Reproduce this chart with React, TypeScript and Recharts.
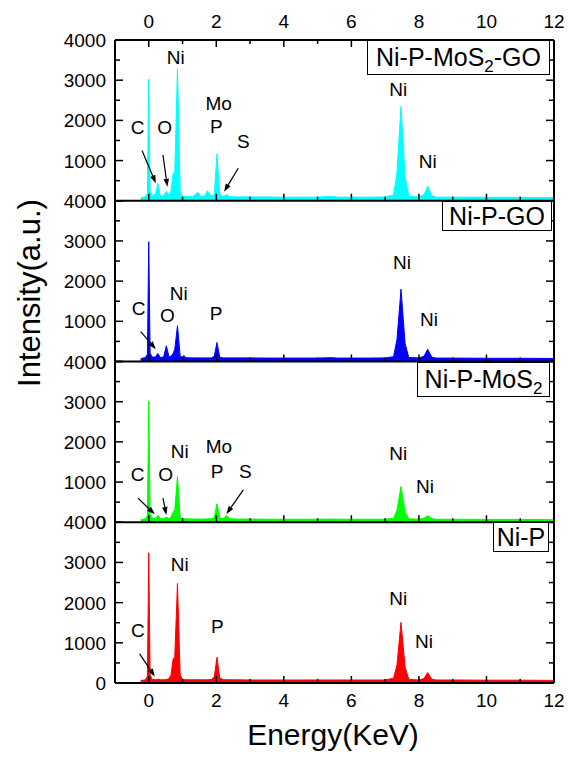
import { Area, AreaChart, ReferenceDot, ReferenceLine, XAxis, YAxis } from "recharts";

// energy grid (keV) shared by all four spectra
const energy = [
  -0.24, -0.1, -0.04, 0, 0.04, 0.1, 0.2, 0.27, 0.34, 0.44, 0.52, 0.6, 0.66, 0.72, 0.77, 0.85, 0.93, 1.0,
  1.04, 1.1, 1.3, 1.45, 1.55, 1.65, 1.74, 1.85, 1.94, 2.02, 2.1, 2.2, 2.3, 2.4, 2.6, 3.0, 3.5, 4.0, 4.5,
  5.0, 5.4, 5.6, 6.0, 6.5, 7.0, 7.25, 7.35, 7.47, 7.59, 7.7, 8.0, 8.15, 8.26, 8.38, 8.5, 9.0, 10.0, 11.0,
  12.0,
];

const niPMoS2GO = [
  70, 100, 180, 3020, 230, 130, 160, 430, 120, 120, 230, 130, 250, 680, 700, 3290, 230, 110, 110, 100,
  100, 210, 100, 110, 250, 100, 160, 1170, 160, 100, 150, 100, 95, 95, 95, 90, 90, 90, 110, 90, 90, 90,
  95, 140, 700, 2350, 600, 110, 95, 150, 360, 130, 90, 90, 85, 85, 80,
];
const niPGO = [
  70, 100, 180, 2980, 210, 110, 110, 200, 100, 110, 390, 110, 130, 200, 300, 890, 130, 110, 150, 95, 90,
  90, 90, 90, 90, 90, 130, 475, 110, 90, 90, 90, 90, 90, 85, 85, 85, 85, 95, 85, 85, 85, 90, 120, 550,
  1800, 450, 100, 90, 130, 305, 110, 85, 85, 80, 80, 75,
];
const niPMoS2 = [
  60, 90, 170, 3020, 200, 100, 100, 170, 90, 90, 125, 90, 130, 250, 300, 1140, 120, 90, 90, 85, 80, 80,
  80, 80, 85, 85, 120, 460, 110, 90, 170, 90, 80, 80, 75, 75, 75, 75, 80, 75, 75, 75, 75, 100, 300, 890,
  250, 85, 75, 100, 165, 90, 75, 75, 70, 70, 65,
];
const niP = [
  60, 80, 170, 3240, 200, 90, 80, 95, 80, 80, 85, 110, 200, 590, 650, 2475, 200, 90, 85, 80, 80, 80, 80,
  80, 80, 85, 150, 640, 130, 85, 80, 80, 80, 75, 75, 75, 75, 75, 75, 75, 75, 75, 75, 120, 450, 1510, 400,
  90, 75, 110, 260, 95, 75, 75, 70, 70, 65,
];

const xTicks = [0, 1, 2, 3, 4, 5, 6, 7, 8, 9, 10, 11, 12];
const yTicks = [0, 500, 1000, 1500, 2000, 2500, 3000, 3500, 4000];

// peak annotations (energy, counts)
const labelsMoS2GO = [
  { text: "C", x: -0.33, y: 1820 },
  { text: "O", x: 0.47, y: 1820 },
  { text: "Ni", x: 0.8, y: 3570 },
  { text: "Mo", x: 2.07, y: 2420 },
  { text: "P", x: 2.0, y: 1845 },
  { text: "S", x: 2.8, y: 1470 },
  { text: "Ni", x: 7.39, y: 2770 },
  { text: "Ni", x: 8.26, y: 977 },
];
const arrowsMoS2GO = [
  [-0.2, 1250, 0.21, 435],
  [0.42, 1140, 0.55, 350],
  [2.65, 810, 2.23, 225],
];
const labelsGO = [
  { text: "C", x: -0.3, y: 1330 },
  { text: "O", x: 0.55, y: 1145 },
  { text: "Ni", x: 0.89, y: 1690 },
  { text: "P", x: 1.99, y: 1190 },
  { text: "Ni", x: 7.5, y: 2455 },
  { text: "Ni", x: 8.3, y: 1055 },
];
const arrowsGO = [[-0.24, 745, 0.21, 305]];
const labelsMoS2 = [
  { text: "C", x: -0.33, y: 1180 },
  { text: "O", x: 0.5, y: 1180 },
  { text: "Ni", x: 0.92, y: 1765 },
  { text: "Mo", x: 2.08, y: 1890 },
  { text: "P", x: 2.02, y: 1265 },
  { text: "S", x: 2.86, y: 1265 },
  { text: "Ni", x: 7.39, y: 1705 },
  { text: "Ni", x: 8.18, y: 890 },
];
const arrowsMoS2 = [
  [-0.32, 600, 0.18, 200],
  [0.42, 600, 0.52, 180],
  [2.8, 805, 2.3, 205],
];
const labelsNiP = [
  { text: "C", x: -0.32, y: 1310 },
  { text: "Ni", x: 0.92, y: 2950 },
  { text: "P", x: 2.03, y: 1410 },
  { text: "Ni", x: 7.39, y: 2100 },
  { text: "Ni", x: 8.15, y: 1030 },
];
const arrowsNiP = [[-0.27, 725, 0.18, 160]];

const FONT = "'Liberation Sans', Arial, sans-serif";
const W = 568;
const H = 765;
const PLOT_TOP = 40;
const PANEL_H = 160.75;

const panels = [
  { values: niPMoS2GO, color: "#00FFFF", labels: labelsMoS2GO, arrows: arrowsMoS2GO },
  { values: niPGO, color: "#0000FF", labels: labelsGO, arrows: arrowsGO },
  { values: niPMoS2, color: "#00FF00", labels: labelsMoS2, arrows: arrowsMoS2 },
  { values: niP, color: "#FF0000", labels: labelsNiP, arrows: arrowsNiP },
];

const legends = [
  { left: 367, top: 40, width: 183, height: 35, content: <>Ni-P-MoS<sub style={{ fontSize: 17 }}>2</sub>-GO</> },
  { left: 442, top: 201, width: 110, height: 30, content: <>Ni-P-GO</> },
  { left: 417, top: 362, width: 133, height: 35, content: <>Ni-P-MoS<sub style={{ fontSize: 17 }}>2</sub></> },
  { left: 493, top: 522, width: 56, height: 30, content: <>Ni-P</> },
];

function BottomTick(props: any) {
  const { x, y, payload, showLabel } = props;
  const major = payload.value % 2 === 0;
  return (
    <g>
      <line x1={x} x2={x} y1={y} y2={y - (major ? 7 : 4)} stroke="#000" strokeWidth={1.5} />
      {showLabel && major && (
        <text x={x} y={y + 24} textAnchor="middle" fontSize={19} fontFamily={FONT} fill="#000">
          {payload.value}
        </text>
      )}
    </g>
  );
}

function TopTick(props: any) {
  const { x, y, payload } = props;
  const major = payload.value % 2 === 0;
  return (
    <g>
      <line x1={x} x2={x} y1={y} y2={y + (major ? 7 : 4)} stroke="#000" strokeWidth={1.5} />
      {major && (
        <text x={x} y={y - 12} textAnchor="middle" fontSize={19} fontFamily={FONT} fill="#000">
          {payload.value}
        </text>
      )}
    </g>
  );
}

function LeftTick(props: any) {
  const { x, y, payload } = props;
  const major = payload.value % 1000 === 0;
  return (
    <g>
      <line x1={x} x2={x + (major ? 8 : 5)} y1={y} y2={y} stroke="#000" strokeWidth={1.5} />
      {major && (
        <text x={x - 9} y={y + 7} textAnchor="end" fontSize={19} fontFamily={FONT} fill="#000">
          {payload.value}
        </text>
      )}
    </g>
  );
}

function RightTick(props: any) {
  const { x, y, payload } = props;
  const major = payload.value % 1000 === 0;
  return <line x1={x} x2={x - (major ? 8 : 5)} y1={y} y2={y} stroke="#000" strokeWidth={1.5} />;
}

function Arrow(props: any) {
  const { x1, y1, x2, y2 } = props;
  const a = Math.atan2(y2 - y1, x2 - x1);
  const len = 8;
  const hw = 2.8;
  const bx = x2 - len * Math.cos(a);
  const by = y2 - len * Math.sin(a);
  const px = -Math.sin(a) * hw;
  const py = Math.cos(a) * hw;
  return (
    <g>
      <line x1={x1} y1={y1} x2={bx} y2={by} stroke="#000" strokeWidth={1.2} />
      <polygon points={`${x2},${y2} ${bx + px},${by + py} ${bx - px},${by - py}`} fill="#000" />
    </g>
  );
}

function Panel({ index }: { index: number }) {
  const p = panels[index];
  const rows = energy.map((e, j) => ({ e, v: p.values[j] }));
  const top = PLOT_TOP + PANEL_H * index;
  const bottom = H - (top + PANEL_H);
  const axisLine = { stroke: "#000", strokeWidth: 2 };
  return (
    <div style={{ position: "absolute", left: 0, top: 0 }}>
      <AreaChart
        width={W}
        height={H}
        data={rows}
        margin={{ top: index === 0 ? top - 1 : top, right: 13, bottom: bottom - 1, left: 114 }}
      >
        <XAxis
          dataKey="e"
          type="number"
          domain={[-1, 12]}
          ticks={xTicks}
          interval={0}
          allowDataOverflow
          height={1}
          tickSize={0}
          tickMargin={0}
          tickLine={false}
          axisLine={axisLine}
          tick={(t: any) => <BottomTick {...t} showLabel={index === 3} />}
        />
        {index === 0 && (
          <XAxis
            xAxisId="top"
            dataKey="e"
            orientation="top"
            type="number"
            domain={[-1, 12]}
            ticks={xTicks}
            interval={0}
            allowDataOverflow
            height={1}
            tickSize={0}
            tickMargin={0}
            tickLine={false}
            axisLine={axisLine}
            tick={(t: any) => <TopTick {...t} />}
          />
        )}
        <YAxis
          type="number"
          domain={[0, 4000]}
          ticks={yTicks}
          interval={0}
          allowDataOverflow
          width={1}
          tickSize={0}
          tickMargin={0}
          tickLine={false}
          axisLine={axisLine}
          tick={(t: any) => <LeftTick {...t} />}
        />
        <YAxis
          yAxisId="r"
          dataKey="v"
          orientation="right"
          type="number"
          domain={[0, 4000]}
          ticks={yTicks}
          interval={0}
          allowDataOverflow
          width={1}
          tickSize={0}
          tickMargin={0}
          tickLine={false}
          axisLine={axisLine}
          tick={(t: any) => <RightTick {...t} />}
        />
        <Area
          dataKey="v"
          type="linear"
          stroke={p.color}
          strokeWidth={1}
          fill={p.color}
          fillOpacity={1}
          baseValue={0}
          dot={false}
          activeDot={false}
          isAnimationActive={false}
        />
        {p.arrows.map((a, k) => (
          <ReferenceLine
            key={"a" + k}
            segment={[
              { x: a[0], y: a[1] },
              { x: a[2], y: a[3] },
            ]}
            shape={(s: any) => <Arrow {...s} />}
          />
        ))}
        {p.labels.map((l, k) => (
          <ReferenceDot
            key={"l" + k}
            x={l.x}
            y={l.y}
            r={0}
            shape={(s: any) => (
              <text
                x={s.cx}
                y={s.cy}
                textAnchor="middle"
                dominantBaseline="central"
                fontSize={19}
                fontFamily={FONT}
                fill="#000"
              >
                {l.text}
              </text>
            )}
          />
        ))}
      </AreaChart>
    </div>
  );
}

export default function App() {
  return (
    <div style={{ position: "absolute", left: 0, top: 0, width: W, height: H, background: "#fff" }}>
      {panels.map((_, i) => (
        <Panel key={i} index={i} />
      ))}
      {legends.map((g, i) => (
        <div
          key={i}
          style={{
            position: "absolute",
            left: g.left,
            top: g.top,
            width: g.width,
            height: g.height,
            boxSizing: "border-box",
            border: "1px solid #000",
            background: "#fff",
            fontFamily: FONT,
            fontSize: 25,
            lineHeight: g.height - 2 + "px",
            textAlign: "center",
            whiteSpace: "nowrap",
          }}
        >
          {g.content}
        </div>
      ))}
      <svg width={W} height={H} style={{ position: "absolute", left: 0, top: 0, pointerEvents: "none" }}>
        <text x={333} y={745} textAnchor="middle" fontSize={30} fontFamily={FONT} fill="#000">
          Energy(KeV)
        </text>
        <text
          x={0}
          y={0}
          transform="translate(40, 293) rotate(-90)"
          textAnchor="middle"
          fontSize={31}
          fontFamily={FONT}
          fill="#000"
        >
          Intensity(a.u.)
        </text>
      </svg>
    </div>
  );
}
